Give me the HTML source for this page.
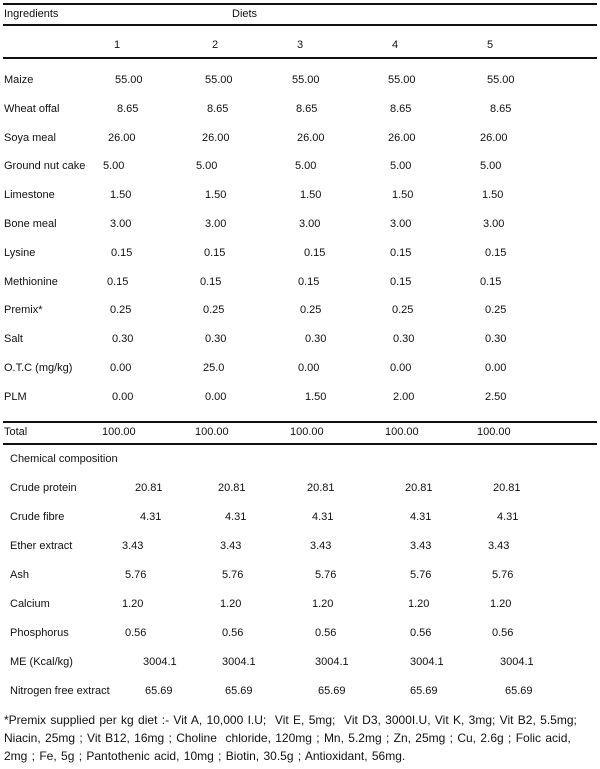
<!DOCTYPE html>
<html><head><meta charset="utf-8">
<style>
body{margin:0;background:#fff;}
#t{position:relative;width:600px;height:769px;overflow:hidden;font-family:"Liberation Sans",Arial,sans-serif;font-size:11px;color:#111;}
.c{position:absolute;line-height:14px;white-space:nowrap;}
.ln{position:absolute;left:3px;width:594px;background:#111;}
</style></head><body>
<div id="t">
<div class="ln" style="top:3px;height:2px"></div>
<div class="ln" style="top:24px;height:1.5px"></div>
<div class="ln" style="top:57px;height:2px"></div>
<div class="ln" style="top:421px;height:2px"></div>
<div class="ln" style="top:443px;height:2px"></div>
<div class="c" style="left:4px;top:7px">Ingredients</div>
<div class="c" style="left:232px;top:7px">Diets</div>
<div class="c" style="left:10px;top:452px">Chemical composition</div>
<div class="c" style="left:4px;top:711px;line-height:18px;font-size:12px;word-spacing:1px">*Premix supplied per kg diet :- Vit A, 10,000 I.U;&nbsp; Vit E, 5mg;&nbsp; Vit D3, 3000I.U, Vit K, 3mg; Vit B2, 5.5mg;<br>Niacin, 25mg ; Vit B12, 16mg ; Choline&nbsp; chloride, 120mg ; Mn, 5.2mg ; Zn, 25mg ; Cu, 2.6g ; Folic acid,<br>2mg ; Fe, 5g ; Pantothenic acid, 10mg ; Biotin, 30.5g ; Antioxidant, 56mg.</div>
</div>
<script>
const dietNumbers=["1","2","3","4","5"];
const ingredientNames=["Maize","Wheat offal","Soya meal","Ground nut cake","Limestone","Bone meal","Lysine","Methionine","Premix*","Salt","O.T.C (mg/kg)","PLM"];
const ingredientValues=[
["55.00","55.00","55.00","55.00","55.00"],
["8.65","8.65","8.65","8.65","8.65"],
["26.00","26.00","26.00","26.00","26.00"],
["5.00","5.00","5.00","5.00","5.00"],
["1.50","1.50","1.50","1.50","1.50"],
["3.00","3.00","3.00","3.00","3.00"],
["0.15","0.15","0.15","0.15","0.15"],
["0.15","0.15","0.15","0.15","0.15"],
["0.25","0.25","0.25","0.25","0.25"],
["0.30","0.30","0.30","0.30","0.30"],
["0.00","25.0","0.00","0.00","0.00"],
["0.00","0.00","1.50","2.00","2.50"]];
const totalValues=["100.00","100.00","100.00","100.00","100.00"];
const chemNames=["Crude protein","Crude fibre","Ether extract","Ash","Calcium","Phosphorus","ME (Kcal/kg)","Nitrogen free extract"];
const chemValues=[
["20.81","20.81","20.81","20.81","20.81"],
["4.31","4.31","4.31","4.31","4.31"],
["3.43","3.43","3.43","3.43","3.43"],
["5.76","5.76","5.76","5.76","5.76"],
["1.20","1.20","1.20","1.20","1.20"],
["0.56","0.56","0.56","0.56","0.56"],
["3004.1","3004.1","3004.1","3004.1","3004.1"],
["65.69","65.69","65.69","65.69","65.69"]];
const T=document.getElementById('t');
function put(txt,x,y,name){
  const d=document.createElement('div');
  d.className='c';
  d.textContent=txt;
  d.style.left=x+'px';
  d.style.top=(y-7)+'px';
  
  
  T.appendChild(d);
}
const hdrX=[114,212,297,392,487];
dietNumbers.forEach((n,i)=>put(n,hdrX[i],45,'diet-'+n+'-header'));
const ingX=[[115,205,292,388,487],[117,207,296,390,490],[108,202,297,388,480],[103,196,295,390,480],[110,205,300,392,482],[110,205,299,390,483],[111,204,304,390,485],[107,200,298,390,480],[110,203,300,392,485],[112,205,305,393,485],[110,203,298,390,485],[112,205,305,393,485]];
ingredientNames.forEach((nm,r)=>{
  const y=80+28.8*r;
  put(nm,4,y,'ingredient-label');
  ingredientValues[r].forEach((v,c)=>put(v,ingX[r][c],y,'ingredient-value'));
});
const totX=[102,195,290,385,477];
put('Total',4,432,'total-label');
totalValues.forEach((v,c)=>put(v,totX[c],432,'total-value'));
const chemX=[[135,218,307,405,493],[140,225,312,410,497],[122,220,310,410,488],[125,222,315,410,492],[122,220,312,408,490],[125,222,315,410,492],[143,222,315,410,500],[145,225,318,410,505]];
chemNames.forEach((nm,r)=>{
  const y=488+29*r;
  put(nm,10,y,'chemical-label');
  chemValues[r].forEach((v,c)=>put(v,chemX[r][c],y,'chemical-value'));
});
</script>
</body></html>
